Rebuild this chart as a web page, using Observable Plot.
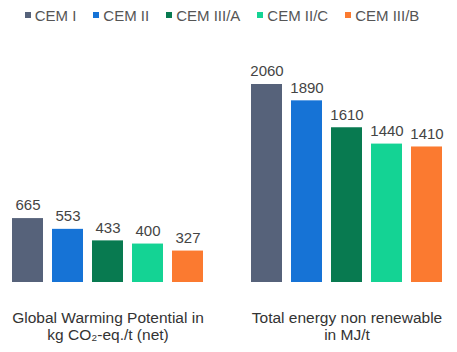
<!DOCTYPE html>
<html>
<head>
<meta charset="utf-8">
<script src="https://cdn.jsdelivr.net/npm/d3@7"></script>
<script src="https://cdn.jsdelivr.net/npm/@observablehq/plot@0.6"></script>
<style>
  body { margin: 0; background: #fff; font-family: "Liberation Sans", Arial, sans-serif; }
  #legend { height: 30px; display: flex; justify-content: center; align-items: center; gap: 17px; font-size: 15px; color: #555; padding-left: 0px; padding-right: 13px; }
  #legend .item { display: flex; align-items: center; gap: 4px; }
  #legend .sw { width: 6px; height: 6px; display: inline-block; }
</style>
</head>
<body>
<div id="legend"></div>
<div id="chart"></div>
<script>
const cements = ["CEM I", "CEM II", "CEM III/A", "CEM II/C", "CEM III/B"];
const colors = ["#56627a", "#1673d6", "#087a50", "#14d394", "#fb7a30"];
const groups = ["Global Warming Potential in\nkg CO₂-eq./t (net)", "Total energy non renewable\nin MJ/t"];
const gwpValues = [665, 553, 433, 400, 327];
const energyValues = [2060, 1890, 1610, 1440, 1410];

const data = [];
cements.forEach((c, i) => data.push({group: groups[0], cem: c, value: gwpValues[i]}));
cements.forEach((c, i) => data.push({group: groups[1], cem: c, value: energyValues[i]}));

const legend = document.getElementById("legend");
cements.forEach((c, i) => {
  const it = document.createElement("span");
  it.className = "item";
  it.innerHTML = `<span class="sw" style="background:${colors[i]}"></span><span>${c}</span>`;
  legend.appendChild(it);
});

const chart = Plot.plot({
  width: 457,
  height: 322,
  marginLeft: 12,
  marginRight: 14,
  marginTop: 54,
  marginBottom: 70,
  style: {fontFamily: '"Liberation Sans", Arial, sans-serif', background: "#fff"},
  fx: {domain: groups, paddingInner: 0.2, paddingOuter: 0, axis: null},
  x: {domain: cements, paddingInner: 0.225, paddingOuter: 0, axis: null},
  y: {domain: [0, 2060], axis: null},
  color: {domain: cements, range: colors},
  marks: [
    Plot.barY(data, {fx: "group", x: "cem", y: "value", fill: "cem"}),
    Plot.text(data, {fx: "group", x: "cem", y: "value", text: d => String(d.value), dy: -13, fontSize: 15, fill: "#444"}),
    Plot.text(groups, {fx: d => d, text: d => d, frameAnchor: "bottom", lineAnchor: "top", dy: 28, fontSize: 15.5, lineHeight: 1.1, fill: "#333"})
  ]
});
document.getElementById("chart").appendChild(chart);
</script>
</body>
</html>
